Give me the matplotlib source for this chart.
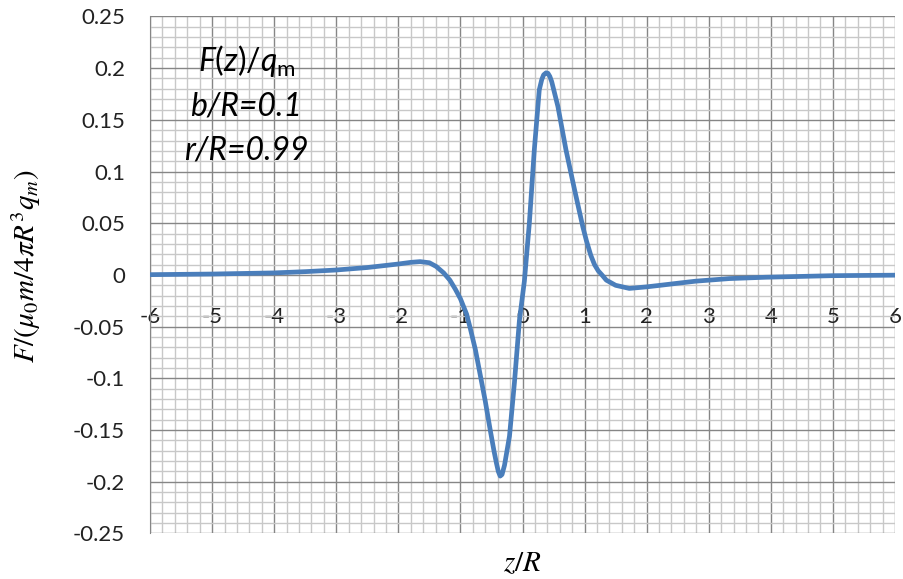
import matplotlib.pyplot as plt
from matplotlib.ticker import MultipleLocator

# data
z_vals = [-6.0, -5.0, -4.0, -3.5, -3.0, -2.5, -2.0, -1.8, -1.65, -1.5, -1.39,
          -1.27, -1.17, -1.08, -1.0, -0.9, -0.84, -0.76, -0.68, -0.6, -0.52,
          -0.46, -0.42, -0.39, -0.36, -0.33, -0.29, -0.21, -0.13, -0.05, 0.03,
          0.11, 0.19, 0.27, 0.31, 0.34, 0.38, 0.41, 0.44, 0.47, 0.57, 0.70,
          0.84, 0.97, 1.03, 1.1, 1.16, 1.22, 1.28, 1.35, 1.5, 1.72, 2.0, 2.26,
          2.5, 2.79, 3.33, 3.92, 4.98, 6.0]
F_vals = [0.0003, 0.0009, 0.002, 0.0032, 0.0048, 0.0072, 0.0106, 0.0122,
          0.0129, 0.0118, 0.0082, 0.002, -0.005, -0.014, -0.023, -0.038,
          -0.052, -0.072, -0.097, -0.122, -0.150, -0.170, -0.182, -0.190,
          -0.1945, -0.193, -0.184, -0.156, -0.104, -0.044, -0.006, 0.050,
          0.121, 0.179, 0.189, 0.1935, 0.1955, 0.195, 0.192, 0.187, 0.163,
          0.121, 0.082, 0.047, 0.033, 0.019, 0.010, 0.004, 0.0, -0.005, -0.010,
          -0.013, -0.0115, -0.0097, -0.008, -0.006, -0.0035, -0.0022, -0.0007,
          -0.0002]

x_ticks = [-6, -5, -4, -3, -2, -1, 0, 1, 2, 3, 4, 5, 6]
y_ticks = [-0.25, -0.2, -0.15, -0.1, -0.05, 0, 0.05, 0.1, 0.15, 0.2, 0.25]

plt.rcParams['mathtext.fontset'] = 'stix'
plt.rcParams['mathtext.it'] = 'Lato:italic'
plt.rcParams['mathtext.rm'] = 'Lato'

fig = plt.figure(figsize=(9.04, 5.79), dpi=100)
ax = fig.add_axes([0.166, 0.0786, 0.824, 0.893])

ax.plot(z_vals, F_vals, color='#4a7ebb', lw=3.4, solid_capstyle='round',
        solid_joinstyle='round', zorder=3)

ax.set_xlim(-6, 6)
ax.set_ylim(-0.25, 0.25)
ax.set_xticks(x_ticks)
ax.set_yticks(y_ticks)
ax.xaxis.set_minor_locator(MultipleLocator(0.2))
ax.yaxis.set_minor_locator(MultipleLocator(0.01))
ax.grid(which='major', color='#868686', lw=1.0, zorder=1)
ax.grid(which='minor', color='#c8c8c8', lw=1.0, zorder=0)
ax.set_axisbelow(True)

for s in ['top', 'right']:
    ax.spines[s].set_visible(False)
ax.spines['bottom'].set_position(('data', 0))
ax.spines['bottom'].set_visible(False)
ax.spines['left'].set_color('#868686')

ax.set_xticklabels([f'{t:g}' for t in x_ticks], fontsize=16, color='#222222',
                   family='Lato')
ax.set_yticklabels([f'{t:g}' for t in y_ticks], fontsize=16, color='#222222',
                   family='Lato')
ax.tick_params(axis='x', which='both', length=0, pad=23)
ax.tick_params(axis='y', which='both', length=0, pad=18)

ax.text(-4.45, 0.207, r'$F(z)/q_{\mathrm{m}}$', fontsize=23, ha='center',
        va='center', math_fontfamily='custom')
ax.text(-4.45, 0.1625, 'b/R=0.1', fontsize=23, ha='center', va='center',
        family='Lato', style='italic')
ax.text(-4.45, 0.120, 'r/R=0.99', fontsize=23, ha='center', va='center',
        family='Lato', style='italic')

fig.text(0.029, 0.54, r'$F/(\mu_0 m/4\pi R^3 q_m)$', fontsize=21,
         rotation=90, ha='center', va='center')
fig.text(0.578, 0.028, r'$z/R$', fontsize=21, ha='center', va='center')

fig.savefig('out.png', dpi=100)
